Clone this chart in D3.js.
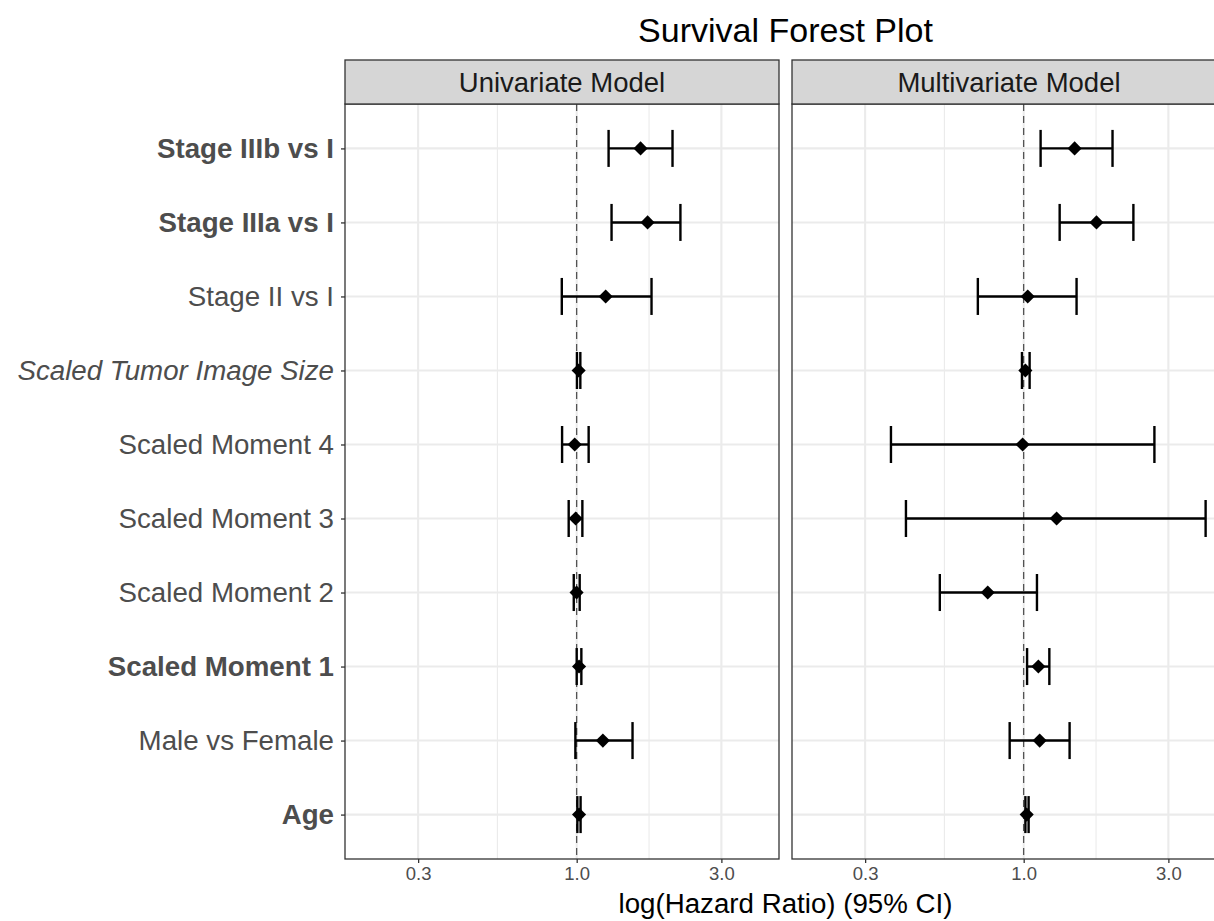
<!DOCTYPE html>
<html>
<head>
<meta charset="utf-8">
<script src="https://cdn.jsdelivr.net/npm/d3@7"></script>
<style>
  body { margin: 0; background: #fff; }
  svg { display: block; font-family: "Liberation Sans", Arial, sans-serif; }
</style>
</head>
<body>
<div id="chart"></div>
<script>
// Terms, bottom to top
const terms = [
  "Age", "Male vs Female", "Scaled Moment 1", "Scaled Moment 2",
  "Scaled Moment 3", "Scaled Moment 4", "Scaled Tumor Image Size",
  "Stage II vs I", "Stage IIIa vs I", "Stage IIIb vs I"
];
const boldTerms = ["Age", "Scaled Moment 1", "Stage IIIa vs I", "Stage IIIb vs I"];
const italicTerms = ["Scaled Tumor Image Size"];

const models = ["Univariate Model", "Multivariate Model"];

// Hazard ratios and 95% CI
const uniHR = [1.018, 1.22, 1.018, 0.999, 0.992, 0.985, 1.015, 1.246, 1.713, 1.624];
const uniLo = [1.005, 0.99, 1.0, 0.978, 0.941, 0.895, 1.002, 0.893, 1.303, 1.274];
const uniHi = [1.03, 1.528, 1.036, 1.023, 1.044, 1.095, 1.028, 1.765, 2.198, 2.07];

const multiHR = [1.023, 1.129, 1.118, 0.761, 1.284, 0.992, 1.013, 1.031, 1.738, 1.472];
const multiLo = [1.013, 0.899, 1.026, 0.529, 0.409, 0.365, 0.987, 0.706, 1.314, 1.137];
const multiHi = [1.038, 1.417, 1.215, 1.106, 3.98, 2.698, 1.046, 1.494, 2.30, 1.963];

const xTicks = [0.3, 1, 3];
const xTickLabels = ["0.3", "1.0", "3.0"];
const xLimits = [0.2, 4];

const config = {
  width: 1214,
  height: 921,
  panelTop: 104,
  panelBottom: 859,
  stripHeight: 44,
  panelLefts: [345, 792],
  panelWidth: 434,
};

const series = [
  { model: models[0], hr: uniHR, lo: uniLo, hi: uniHi },
  { model: models[1], hr: multiHR, lo: multiLo, hi: multiHi },
];

const svg = d3.select("#chart")
  .append("svg")
  .attr("width", config.width)
  .attr("height", config.height);

svg.append("rect")
  .attr("width", config.width)
  .attr("height", config.height)
  .attr("fill", "#fff");

// log scale with 5% expansion like ggplot
const ext = Math.pow(xLimits[1] / xLimits[0], 0.05);
const xScale = d3.scaleLog()
  .domain([xLimits[0] / ext, xLimits[1] * ext])
  .range([0, config.panelWidth]);

const yScale = d3.scalePoint()
  .domain(terms)
  .range([config.panelBottom, config.panelTop])
  .padding(0.6);
const step = yScale.step();

// minor breaks halfway between majors in log space
const minorBreaks = d3.pairs(xTicks).map(([a, b]) => Math.sqrt(a * b));

series.forEach((s, i) => {
  const left = config.panelLefts[i];
  const g = svg.append("g").attr("transform", `translate(${left},0)`);
  const innerH = config.panelBottom - config.panelTop;

  // grid
  g.selectAll(".minor")
    .data(minorBreaks)
    .enter()
    .append("line")
    .attr("x1", (d) => xScale(d))
    .attr("x2", (d) => xScale(d))
    .attr("y1", config.panelTop)
    .attr("y2", config.panelBottom)
    .attr("stroke", "#ebebeb")
    .attr("stroke-width", 1.1);

  g.selectAll(".major")
    .data(xTicks)
    .enter()
    .append("line")
    .attr("x1", (d) => xScale(d))
    .attr("x2", (d) => xScale(d))
    .attr("y1", config.panelTop)
    .attr("y2", config.panelBottom)
    .attr("stroke", "#ebebeb")
    .attr("stroke-width", 2.1);

  g.selectAll(".hgrid")
    .data(terms)
    .enter()
    .append("line")
    .attr("x1", 0)
    .attr("x2", config.panelWidth)
    .attr("y1", (d) => yScale(d))
    .attr("y2", (d) => yScale(d))
    .attr("stroke", "#ebebeb")
    .attr("stroke-width", 2.1);

  // reference line at HR = 1
  g.append("line")
    .attr("x1", xScale(1))
    .attr("x2", xScale(1))
    .attr("y1", config.panelTop)
    .attr("y2", config.panelBottom)
    .attr("stroke", "#3a3a3a")
    .attr("stroke-width", 1.1)
    .attr("stroke-dasharray", "7,5");

  const rows = terms.map((t, j) => ({ term: t, hr: s.hr[j], lo: s.lo[j], hi: s.hi[j] }));

  // error bars
  const bars = g.selectAll(".err")
    .data(rows)
    .enter()
    .append("g")
    .attr("stroke", "#000")
    .attr("stroke-width", 2.4);
  bars.append("line")
    .attr("x1", (d) => xScale(d.lo))
    .attr("x2", (d) => xScale(d.hi))
    .attr("y1", (d) => yScale(d.term))
    .attr("y2", (d) => yScale(d.term));
  bars.append("line")
    .attr("x1", (d) => xScale(d.lo))
    .attr("x2", (d) => xScale(d.lo))
    .attr("y1", (d) => yScale(d.term) - step * 0.25)
    .attr("y2", (d) => yScale(d.term) + step * 0.25);
  bars.append("line")
    .attr("x1", (d) => xScale(d.hi))
    .attr("x2", (d) => xScale(d.hi))
    .attr("y1", (d) => yScale(d.term) - step * 0.25)
    .attr("y2", (d) => yScale(d.term) + step * 0.25);

  // diamonds
  g.selectAll(".pt")
    .data(rows)
    .enter()
    .append("path")
    .attr("d", d3.symbol(d3.symbolSquare, 100))
    .attr("transform", (d) => `translate(${xScale(d.hr)},${yScale(d.term)}) rotate(45)`)
    .attr("fill", "#000");

  // panel border
  g.append("rect")
    .attr("x", 0)
    .attr("y", config.panelTop)
    .attr("width", config.panelWidth)
    .attr("height", innerH)
    .attr("fill", "none")
    .attr("stroke", "#333")
    .attr("stroke-width", 1.3);

  // strip
  g.append("rect")
    .attr("x", 0)
    .attr("y", config.panelTop - config.stripHeight)
    .attr("width", config.panelWidth)
    .attr("height", config.stripHeight)
    .attr("fill", "#d6d6d6")
    .attr("stroke", "#333")
    .attr("stroke-width", 1.3);
  g.append("text")
    .attr("x", config.panelWidth / 2)
    .attr("y", config.panelTop - config.stripHeight / 2)
    .attr("dy", "0.35em")
    .attr("text-anchor", "middle")
    .style("font-size", "27.5px")
    .style("fill", "#1a1a1a")
    .text(s.model);

  // x axis
  const xAxis = g.append("g")
    .attr("transform", `translate(0,${config.panelBottom})`)
    .call(d3.axisBottom(xScale)
      .tickValues(xTicks)
      .tickFormat((d, k) => xTickLabels[k])
      .tickSize(4)
      .tickPadding(4));
  xAxis.select(".domain").remove();
  xAxis.selectAll("line").attr("stroke", "#333").attr("stroke-width", 1.3);
  xAxis.selectAll("text")
    .style("font-size", "18.5px")
    .style("fill", "#4d4d4d")
    .style("font-family", "Liberation Sans, Arial, sans-serif");

  // y axis only on the first panel
  if (i === 0) {
    const yAxis = g.append("g")
      .call(d3.axisLeft(yScale).tickSize(4).tickPadding(7));
    yAxis.select(".domain").remove();
    yAxis.selectAll("line").attr("stroke", "#333").attr("stroke-width", 1.3);
    yAxis.selectAll("text")
      .style("font-size", "27.7px")
      .style("fill", "#4d4d4d")
      .style("font-family", "Liberation Sans, Arial, sans-serif")
      .style("font-weight", (d) => (boldTerms.includes(d) ? "bold" : "normal"))
      .style("font-style", (d) => (italicTerms.includes(d) ? "italic" : "normal"));
  }
});

// plot title and x title, centred over the panel area
const panelCentre = (config.panelLefts[0] + config.panelLefts[1] + config.panelWidth) / 2;

svg.append("text")
  .attr("x", panelCentre)
  .attr("y", 42)
  .attr("text-anchor", "middle")
  .style("font-size", "34px")
  .style("fill", "#000")
  .text("Survival Forest Plot");

svg.append("text")
  .attr("x", panelCentre)
  .attr("y", 913)
  .attr("text-anchor", "middle")
  .style("font-size", "27.7px")
  .style("fill", "#000")
  .text("log(Hazard Ratio) (95% CI)");
</script>
</body>
</html>
